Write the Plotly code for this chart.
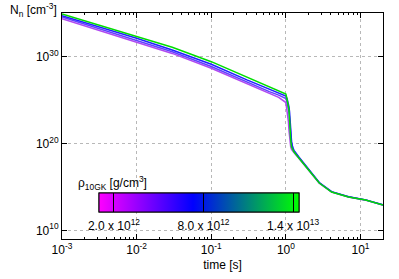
import plotly.graph_objects as go

# time grid [s]
time_s = [0.001, 0.003, 0.01, 0.03, 0.1, 0.3, 0.6, 0.8, 1.0, 1.04, 1.08, 1.1, 1.12,
          1.14, 1.16, 1.19, 1.23, 1.28, 1.5, 2.0, 2.8, 4.1, 6.9, 11.7, 20.0]

# log10 of neutron number density [cm^-3]
purple_log10N = [34.35, 33.05, 31.7, 30.35, 28.65, 26.85, 25.75, 25.3, 24.7, 23.8, 22.5, 21.5, 20.6,
                 20.0, 19.6, 19.3, 19.1, 18.95, 18.25, 16.9, 15.42, 14.4, 13.82, 13.47, 12.9]
violet_log10N = [34.55, 33.25, 31.9, 30.55, 28.85, 27.05, 25.95, 25.55, 25.15, 24.7, 24.1, 23.6, 22.8,
                 21.8, 20.9, 20.0, 19.5, 19.15, 18.35, 16.97, 15.47, 14.42, 13.85, 13.49, 12.92]
blue_log10N = [34.7, 33.45, 32.1, 30.75, 29.1, 27.3, 26.2, 25.8, 25.45, 25.1, 24.6, 24.2, 23.6,
               22.5, 21.3, 20.2, 19.6, 19.2, 18.4, 17.0, 15.5, 14.45, 13.87, 13.5, 12.93]
green_log10N = [34.88, 33.67, 32.35, 31.05, 29.4, 27.61, 26.48, 26.08, 25.68, 24.99, 24.2, 23.84, 22.69,
                21.2, 20.39, 19.61, 19.3, 19.04, 18.28, 16.93, 15.44, 14.40, 13.83, 13.48, 12.91]

series_names = ["2e12", "5e12", "8e12", "1.4e13"]
series_colors = ["#b048f0", "#6040ff", "#2020ff", "#00dd00"]
series_values = [purple_log10N, violet_log10N, blue_log10N, green_log10N]

x_tickvals = [0.001, 0.01, 0.1, 1, 10]
x_ticktext = ["10<sup>-3</sup>", "10<sup>-2</sup>", "10<sup>-1</sup>", "10<sup>0</sup>", "10<sup>1</sup>"]
x_minor_vals = [m * d for d in [0.001, 0.01, 0.1, 1, 10] for m in range(2, 10)]
y_tickvals = [1e10, 1e20, 1e30]
y_ticktext = ["10<sup>10</sup>", "10<sup>20</sup>", "10<sup>30</sup>"]

rho_min, rho_max = 1.0e12, 1.44e13
cb_tickvals = [2.0e12, 8.0e12, 1.4e13]
cb_ticktext = ["2.0 x 10<sup>12</sup>", "8.0 x 10<sup>12</sup>", "1.4 x 10<sup>13</sup>"]
cb_colorscale = [[0.0, "#ff00ff"], [0.47, "#0000ff"], [1.0, "#00ff00"]]

fig = go.Figure()
for name, col, vals in zip(series_names, series_colors, series_values):
    fig.add_trace(go.Scatter(
        x=time_s, y=[10 ** v for v in vals], mode="lines", name=name,
        line=dict(color=col, width=1.5),
        showlegend=False, hoverinfo="skip"))

cb_base = dict(orientation="h", x=0.1153, xanchor="left", y=0.2035, yanchor="top",
               lenmode="pixels", len=200, thicknessmode="pixels", thickness=19,
               xpad=0, ypad=0, outlinecolor="black", outlinewidth=1,
               tickmode="array", tickvals=cb_tickvals, ticktext=cb_ticktext,
               tickfont=dict(size=12, color="black", family="Liberation Sans"))

# colour bar with labels (transparent outside ticks push labels down a little)
fig.add_trace(go.Scatter(
    x=[None], y=[None], mode="markers", showlegend=False, hoverinfo="skip",
    marker=dict(color=[rho_min], cmin=rho_min, cmax=rho_max, showscale=True,
                colorscale=cb_colorscale,
                colorbar=dict(cb_base, ticks="outside", ticklen=4, tickcolor="rgba(0,0,0,0)"))))
# same colour bar drawn again with the inside tick marks
fig.add_trace(go.Scatter(
    x=[None], y=[None], mode="markers", showlegend=False, hoverinfo="skip",
    marker=dict(color=[rho_min], cmin=rho_min, cmax=rho_max, showscale=True,
                colorscale=cb_colorscale,
                colorbar=dict(cb_base, ticks="inside", ticklen=19, tickcolor="black",
                              tickwidth=1, showticklabels=False))))

axis_common = dict(
    showline=True, linecolor="black", linewidth=1, mirror="ticks",
    ticks="inside", tickcolor="black", ticklen=5, automargin=False,
    showgrid=True, gridcolor="#b8b8b8", griddash="dot", gridwidth=1,
    zeroline=False, tickfont=dict(size=12, color="black", family="Liberation Sans"),
)

fig.update_xaxes(type="log", range=[-3, 1.30103], tickmode="array",
                 tickvals=x_tickvals, ticktext=x_ticktext,
                 minor=dict(ticks="inside", ticklen=2, tickcolor="black", showgrid=False,
                            tickmode="array", tickvals=x_minor_vals),
                 title=dict(text="time [s]", font=dict(size=12, color="black", family="Liberation Sans"), standoff=4),
                 **axis_common)
fig.update_yaxes(type="log", range=[9, 35], tickmode="array",
                 tickvals=y_tickvals, ticktext=y_ticktext, **axis_common)

fig.add_annotation(text="N<sub>n</sub> [cm<sup>-3</sup>]", xref="paper", yref="paper",
                   x=-0.01, y=1.0, xanchor="right", yanchor="middle", yshift=3, showarrow=False,
                   font=dict(size=12, color="black", family="Liberation Sans"))
fig.add_annotation(text="ρ<sub>10GK</sub> [g/cm<sup>3</sup>]", xref="paper", yref="paper",
                   x=0.0436, y=0.25, xanchor="left", yanchor="middle", showarrow=False,
                   font=dict(size=12, color="black", family="Liberation Sans"))

fig.update_layout(
    width=399, height=279, margin=dict(l=62, r=16, t=13, b=40, autoexpand=False),
    plot_bgcolor="white", paper_bgcolor="white", hovermode=False,
    font=dict(family="Liberation Sans", size=12, color="black"),
)

fig.write_html("out.html", config={"displayModeBar": False},
               post_script="document.body.style.margin='0';document.body.style.overflow='hidden';")
